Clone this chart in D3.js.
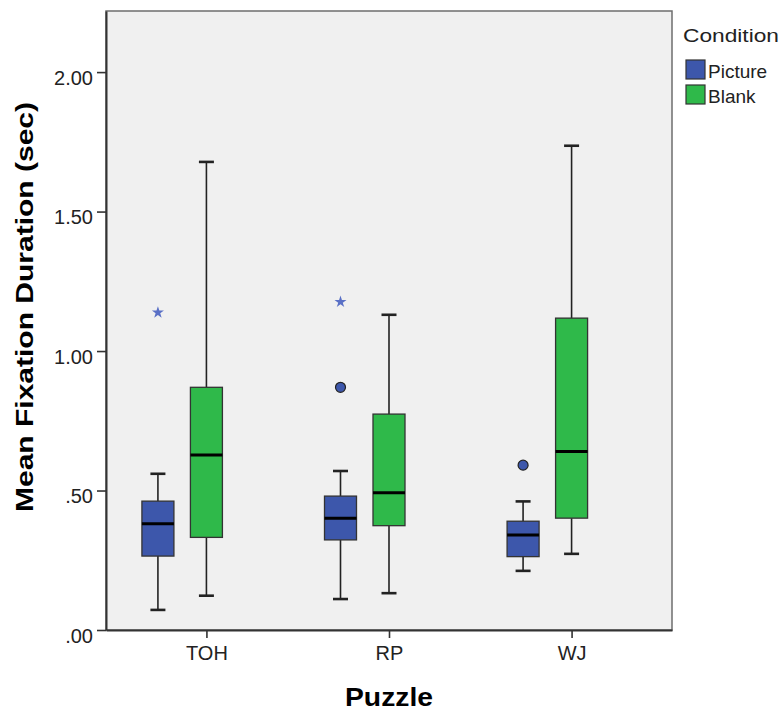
<!DOCTYPE html>
<html><head><meta charset="utf-8">
<script src="https://cdn.jsdelivr.net/npm/d3@7"></script>
<style>body{margin:0;background:#fff;} text{font-family:"Liberation Sans",Arial,sans-serif;}</style>
</head><body>
<svg id="c" width="782" height="711"></svg>
<script>
const categories = ["TOH", "RP", "WJ"];
const conditions = ["Picture", "Blank"];
const colors = ["#3d57ab", "#2fb94a"];
// box statistics per condition, one value per category
const lowerWhisker = { Picture: [0.072, 0.111, 0.212], Blank: [0.123, 0.132, 0.273] };
const q1 =           { Picture: [0.265, 0.323, 0.263], Blank: [0.332, 0.374, 0.401] };
const median =       { Picture: [0.381, 0.401, 0.341], Blank: [0.627, 0.492, 0.640] };
const q3 =           { Picture: [0.462, 0.480, 0.390], Blank: [0.870, 0.774, 1.118] };
const upperWhisker = { Picture: [0.560, 0.570, 0.461], Blank: [1.678, 1.130, 1.736] };
const outliers = [ {cat:"RP", cond:"Picture", v:0.870}, {cat:"WJ", cond:"Picture", v:0.591} ];
const extremes = [ {cat:"TOH", cond:"Picture", v:1.138}, {cat:"RP", cond:"Picture", v:1.176} ];
const yTicks = [0, 0.5, 1.0, 1.5, 2.0];

const svg = d3.select("#c");
const L = 106, R = 672, T = 11, B = 630;
const y = d3.scaleLinear().domain([0, 2.219]).range([B, T]);
const x = d3.scalePoint().domain(categories).range([L, R]).padding(0.55);
const off = d3.scalePoint().domain(conditions).range([-48.5, 0]);
const bw = 32, cap = 15;

svg.append("rect").attr("x", L).attr("y", T).attr("width", R - L).attr("height", B - T)
  .attr("fill", "#f0f0f0").attr("stroke", "#6e6e6e").attr("stroke-width", 1.5);

const boxes = [];
conditions.forEach((c, ci) => categories.forEach((k, i) => boxes.push({
  cat: k, cond: c, color: colors[ci],
  lo: lowerWhisker[c][i], q1: q1[c][i], med: median[c][i], q3: q3[c][i], hi: upperWhisker[c][i]
})));

const g = svg.append("g");
boxes.forEach(d => {
  const cx = x(d.cat) + off(d.cond);
  g.append("line").attr("x1", cx).attr("x2", cx).attr("y1", y(d.hi)).attr("y2", y(d.q3)).attr("stroke", "#222").attr("stroke-width", 1.6);
  g.append("line").attr("x1", cx).attr("x2", cx).attr("y1", y(d.q1)).attr("y2", y(d.lo)).attr("stroke", "#222").attr("stroke-width", 1.6);
  g.append("line").attr("x1", cx - cap/2).attr("x2", cx + cap/2).attr("y1", y(d.hi)).attr("y2", y(d.hi)).attr("stroke", "#222").attr("stroke-width", 2.6);
  g.append("line").attr("x1", cx - cap/2).attr("x2", cx + cap/2).attr("y1", y(d.lo)).attr("y2", y(d.lo)).attr("stroke", "#222").attr("stroke-width", 2.6);
  g.append("rect").attr("x", cx - bw/2).attr("y", y(d.q3)).attr("width", bw).attr("height", y(d.q1) - y(d.q3))
    .attr("fill", d.color).attr("stroke", "#333").attr("stroke-width", 1.3);
  g.append("line").attr("x1", cx - bw/2).attr("x2", cx + bw/2).attr("y1", y(d.med)).attr("y2", y(d.med)).attr("stroke", "#000").attr("stroke-width", 3);
});

g.selectAll("circle.o").data(outliers).join("circle")
  .attr("cx", d => x(d.cat) + off(d.cond)).attr("cy", d => y(d.v)).attr("r", 5)
  .attr("fill", colors[0]).attr("stroke", "#222").attr("stroke-width", 1.2);
g.selectAll("path.e").data(extremes).join("path")
  .attr("transform", d => `translate(${x(d.cat) + off(d.cond)},${y(d.v)})`)
  .attr("d", d3.symbol().type(d3.symbolStar).size(45)).attr("fill", "#5a70c6");

// axes
const yAxis = d3.axisLeft(y).tickValues(yTicks).tickSize(9).tickSizeOuter(0)
  .tickFormat(v => d3.format(".2f")(v).replace(/^0/, ""));
const ya = svg.append("g").attr("transform", `translate(${L},0)`).call(yAxis);
const xa = svg.append("g").attr("transform", `translate(0,${B})`).call(d3.axisBottom(x).tickSize(8).tickSizeOuter(0));
[ya, xa].forEach(a => {
  a.select(".domain").attr("stroke", "#333").attr("stroke-width", 2);
  a.selectAll(".tick line").attr("stroke", "#333").attr("stroke-width", 1.6);
  a.selectAll(".tick text").attr("fill", "#222").style("font-size", "20px");
});
ya.selectAll(".tick text").attr("x", -13).attr("y", 5).attr("dy", "0.36em");
xa.selectAll(".tick text").attr("y", 16).attr("dy", "0.71em");

svg.append("text").attr("transform", `translate(33,307) rotate(-90)`).attr("text-anchor", "middle")
  .attr("font-weight", "bold").style("font-size", "24px").attr("fill", "#000")
  .attr("textLength", 410).attr("lengthAdjust", "spacingAndGlyphs")
  .text("Mean Fixation Duration (sec)");
svg.append("text").attr("x", 389).attr("y", 706).attr("text-anchor", "middle")
  .attr("font-weight", "bold").style("font-size", "25px").attr("fill", "#000")
  .attr("textLength", 88).attr("lengthAdjust", "spacingAndGlyphs").text("Puzzle");

// legend
const lg = svg.append("g");
lg.append("text").attr("x", 683).attr("y", 42).style("font-size", "19px").attr("fill", "#222")
  .attr("textLength", 96).attr("lengthAdjust", "spacingAndGlyphs").text("Condition");
conditions.forEach((c, i) => {
  lg.append("rect").attr("x", 686).attr("y", 60 + i * 25).attr("width", 19).attr("height", 19)
    .attr("fill", colors[i]).attr("stroke", "#333").attr("stroke-width", 1.2);
  lg.append("text").attr("x", 708).attr("y", 78 + i * 25).style("font-size", "19px").attr("fill", "#222").text(c);
});
</script>
</body></html>
